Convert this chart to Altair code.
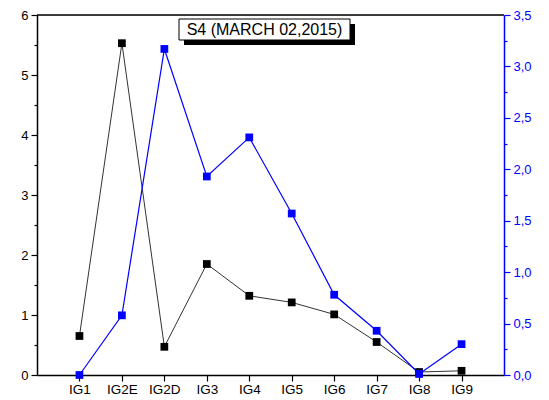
import altair as alt
import pandas as pd

cats = ["IG1", "IG2E", "IG2D", "IG3", "IG4", "IG5", "IG6", "IG7", "IG8", "IG9"]
black_vals = [0.65, 5.53, 0.47, 1.85, 1.32, 1.21, 1.01, 0.55, 0.05, 0.07]
blue_vals = [0.00, 0.58, 3.17, 1.93, 2.31, 1.57, 0.78, 0.43, 0.01, 0.30]
left_ticks = [i * 0.5 for i in range(13)]
right_ticks = [i * 0.25 for i in range(15)]
title_text = "S4 (MARCH 02,2015)"

df = pd.DataFrame({"cat": cats, "black": black_vals, "blue": blue_vals})
FONT = "Liberation Sans"

xenc = alt.X(
    "cat:N", sort=cats, title=None,
    scale=alt.Scale(type="point", padding=1),
    axis=alt.Axis(labelAngle=0, labelFont=FONT, labelFontSize=13.5, labelColor="black",
                  tickColor="black", tickSize=6, domainColor="black", domainWidth=1.5,
                  tickWidth=1.2, labelPadding=1, grid=False),
)

yleft = alt.Y(
    "black:Q", title=None,
    scale=alt.Scale(domain=[0, 6], nice=False, zero=True),
    axis=alt.Axis(values=left_ticks, orient="left", grid=False,
                  labelExpr="datum.value % 1 === 0 ? format(datum.value, 'd') : ''",
                  labelFont=FONT, labelFontSize=13, labelColor="black",
                  domainColor="black", domainWidth=1.5, tickColor="black", tickWidth=1.2,
                  tickSize={"condition": {"test": "datum.value % 1 === 0", "value": 6}, "value": 3},
                  labelPadding=3),
)

yright = alt.Y(
    "blue:Q", title=None,
    scale=alt.Scale(domain=[0, 3.5], nice=False, zero=True),
    axis=alt.Axis(values=right_ticks, orient="right", grid=False,
                  labelExpr="(datum.value * 2) % 1 === 0 ? replace(format(datum.value, '.1f'), '.', ',') : ''",
                  labelFont=FONT, labelFontSize=13, labelColor="#0000FF",
                  domainColor="#0000FF", domainWidth=1.5, tickColor="#0000FF", tickWidth=1.2,
                  tickSize={"condition": {"test": "(datum.value * 2) % 1 === 0", "value": 6}, "value": 3},
                  labelPadding=3),
)

base = alt.Chart(df)
bl = base.mark_line(color="#333333", strokeWidth=1).encode(x=xenc, y=yleft)
bp = base.mark_square(size=60, color="black", opacity=1).encode(x=xenc, y=yleft)
ul = base.mark_line(color="#0000FF", strokeWidth=1.2).encode(x=xenc, y=yright)
up = base.mark_square(size=60, color="#0000FF", opacity=1).encode(x=xenc, y=yright)

ann_df = pd.DataFrame({"t": [title_text]})
ann = alt.Chart(ann_df)
topline = ann.mark_rule(color="black", strokeWidth=1.5).encode(
    x=alt.value(0), x2=alt.value(467), y=alt.value(0))
shadow = ann.mark_rect(color="black").encode(
    x=alt.value(147), x2=alt.value(318), y=alt.value(9), y2=alt.value(30))
box = ann.mark_rect(fill="white", stroke="black", strokeWidth=1).encode(
    x=alt.value(142), x2=alt.value(313), y=alt.value(4), y2=alt.value(25))
txt = ann.mark_text(font=FONT, fontSize=16, color="black", align="center", baseline="middle").encode(
    x=alt.value(227.5), y=alt.value(15), text="t:N")

chart = alt.layer(
    alt.layer(bl, bp),
    alt.layer(ul, up),
    alt.layer(topline, shadow, box, txt),
).resolve_scale(y="independent").properties(
    width=467, height=360,
    autosize=alt.AutoSizeParams(type="none"),
    padding={"left": 37, "top": 15, "right": 45, "bottom": 25},
).configure_view(stroke=None).configure(background="white")

chart.save("out.html", embed_options={"renderer": "svg", "actions": False})
